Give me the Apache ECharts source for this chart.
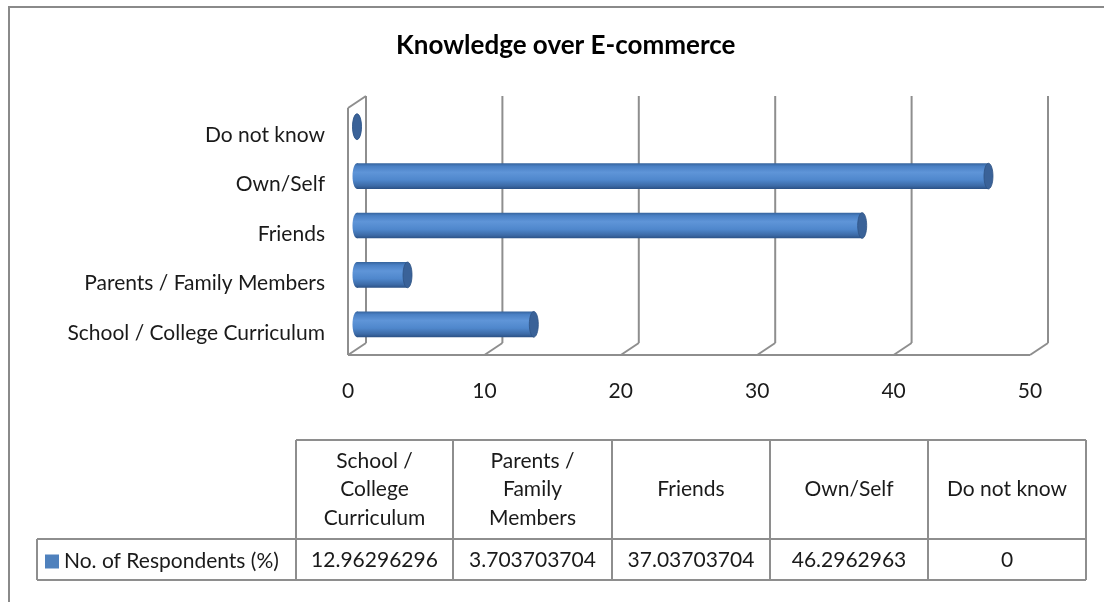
<!DOCTYPE html>
<html>
<head>
<meta charset="utf-8">
<script src="https://cdn.jsdelivr.net/npm/echarts@6/dist/echarts.min.js"></script>
<style>
  html, body { margin: 0; padding: 0; background: #ffffff; }
  #chart { width: 1104px; height: 602px; }
</style>
</head>
<body>
<div id="chart"></div>
<script>
// Sources of knowledge about e-commerce, bottom to top on the category axis
const categories = ['School / College Curriculum', 'Parents / Family Members', 'Friends', 'Own/Self', 'Do not know'];
const tableHeaders = ['School /\nCollege\nCurriculum', 'Parents /\nFamily\nMembers', 'Friends', 'Own/Self', 'Do not know'];
const respondents = [12.96296296, 3.703703704, 37.03703704, 46.2962963, 0];
const seriesName = 'No. of Respondents (%)';
const xTicks = [0, 10, 20, 30, 40, 50];

const FONT = 'Lato, "Open Sans", sans-serif';
const FS = 21;
const TEXT = '#1a1a1a';
const GRID_LINE = '#8e8e8e';
const DX = 18, DY = -12;        // depth of the pseudo-3D floor/walls

const chart = echarts.init(document.getElementById('chart'), null, { renderer: 'canvas' });

// back-wall gridlines with their floor diagonals, plus the left wall and floor edge
function renderWalls(params, api) {
  const cs = params.coordSys;
  const x = api.coord([api.value(0), 0])[0];
  const yTop = cs.y, yBot = cs.y + cs.height;
  const ls = { stroke: GRID_LINE, lineWidth: 2 };
  const children = [
    { type: 'line', shape: { x1: x + DX, y1: yTop + DY, x2: x + DX, y2: yBot + DY }, style: ls },
    { type: 'line', shape: { x1: x, y1: yBot, x2: x + DX, y2: yBot + DY }, style: ls }
  ];
  if (params.dataIndex === 0) {
    const xEnd = api.coord([xTicks[xTicks.length - 1], 0])[0];
    children.push(
      { type: 'line', shape: { x1: x, y1: yTop, x2: x, y2: yBot }, style: ls },
      { type: 'line', shape: { x1: x, y1: yTop, x2: x + DX, y2: yTop + DY }, style: ls },
      { type: 'line', shape: { x1: x, y1: yBot, x2: xEnd, y2: yBot }, style: ls }
    );
  }
  return { type: 'group', children };
}

const bodyFill = new echarts.graphic.LinearGradient(0, 0, 0, 1, [
  { offset: 0, color: '#35639c' },
  { offset: 0.12, color: '#4a80c4' },
  { offset: 0.35, color: '#5f95d8' },
  { offset: 0.65, color: '#4f87cc' },
  { offset: 0.88, color: '#3c6aa6' },
  { offset: 1, color: '#2b5185' }
]);

// horizontal cylinders, set at half depth between the front and back planes
function renderCylinder(params, api) {
  const cat = api.value(1);
  const p0 = api.coord([0, cat]);
  const p1 = api.coord([api.value(0), cat]);
  const h = api.size([0, 1])[1] * 0.52;
  const x0 = p0[0] + DX / 2, x1 = p1[0] + DX / 2, cy = p0[1] + DY / 2;
  const rx = 4.5, ry = h / 2;
  return {
    type: 'group',
    children: [
      { type: 'ellipse', shape: { cx: x0, cy: cy, rx: rx, ry: ry }, style: { fill: bodyFill } },
      { type: 'rect', shape: { x: x0, y: cy - ry, width: Math.max(x1 - x0, 0), height: h }, style: { fill: bodyFill } },
      { type: 'ellipse', shape: { cx: x1, cy: cy, rx: rx, ry: ry }, style: { fill: '#3a6298', stroke: '#2f5384', lineWidth: 0.8 } }
    ]
  };
}

// data table below the plot
const tableGraphics = [];
const colX = [296, 453, 612, 770, 928, 1086];
const rowTop = 440, rowMid = 539, rowBot = 580, rowLeft = 37;
const tl = { stroke: GRID_LINE, lineWidth: 2 };
tableGraphics.push(
  { type: 'line', shape: { x1: colX[0], y1: rowTop, x2: colX[5], y2: rowTop }, style: tl },
  { type: 'line', shape: { x1: rowLeft, y1: rowMid, x2: colX[5], y2: rowMid }, style: tl },
  { type: 'line', shape: { x1: rowLeft, y1: rowBot, x2: colX[5], y2: rowBot }, style: tl },
  { type: 'line', shape: { x1: rowLeft, y1: rowMid, x2: rowLeft, y2: rowBot }, style: tl }
);
colX.forEach(x => tableGraphics.push(
  { type: 'line', shape: { x1: x, y1: rowTop, x2: x, y2: rowBot }, style: tl }
));
tableHeaders.forEach((t, i) => {
  const cx = (colX[i] + colX[i + 1]) / 2;
  tableGraphics.push({
    type: 'text', x: cx, y: (rowTop + rowMid) / 2,
    style: { text: t, fill: TEXT, font: FS + 'px ' + FONT, align: 'center', verticalAlign: 'middle', lineHeight: 28.5 }
  });
  tableGraphics.push({
    type: 'text', x: cx, y: (rowMid + rowBot) / 2 + 1,
    style: { text: String(respondents[i]), fill: TEXT, font: FS + 'px ' + FONT, align: 'center', verticalAlign: 'middle' }
  });
});
// outer chart-area frame
tableGraphics.push({
  type: 'polyline', shape: { points: [[9, 610], [9, 7], [1110, 7]] },
  style: { stroke: '#8a8a8a', lineWidth: 2, fill: null }
});

chart.setOption({
  animation: false,
  backgroundColor: '#ffffff',
  title: {
    text: 'Knowledge over E-commerce',
    left: 391, top: 28,
    textStyle: { fontFamily: FONT, fontSize: 26, fontWeight: 'bold', color: '#000000' }
  },
  legend: {
    data: [seriesName],
    left: 40, top: 546,
    icon: 'rect', itemWidth: 14, itemHeight: 14,
    textStyle: { fontFamily: FONT, fontSize: FS, color: TEXT },
    selectedMode: false
  },
  grid: { left: 348, right: 74, top: 108, bottom: 247, containLabel: false },
  xAxis: {
    type: 'value', min: 0, max: 50, interval: 10,
    axisLine: { show: false }, axisTick: { show: false }, splitLine: { show: false },
    axisLabel: { fontFamily: FONT, fontSize: FS, color: TEXT, margin: 26 }
  },
  yAxis: {
    type: 'category', data: categories,
    axisLine: { show: false }, axisTick: { show: false }, splitLine: { show: false },
    axisLabel: {
      margin: 23,
      formatter: v => '{c|' + v + '}',
      rich: { c: { fontFamily: FONT, fontSize: FS, color: TEXT, padding: [5, 0, 0, 0] } }
    }
  },
  graphic: tableGraphics,
  series: [
    {
      type: 'custom', name: 'walls', silent: true, z: 1,
      data: xTicks.map(v => [v, 0]),
      renderItem: renderWalls
    },
    {
      type: 'custom', name: seriesName, z: 3,
      itemStyle: { color: '#4f81bd' },
      data: respondents.map((v, i) => [v, i]),
      encode: { x: 0, y: 1 },
      renderItem: renderCylinder
    }
  ]
});
</script>
</body>
</html>
